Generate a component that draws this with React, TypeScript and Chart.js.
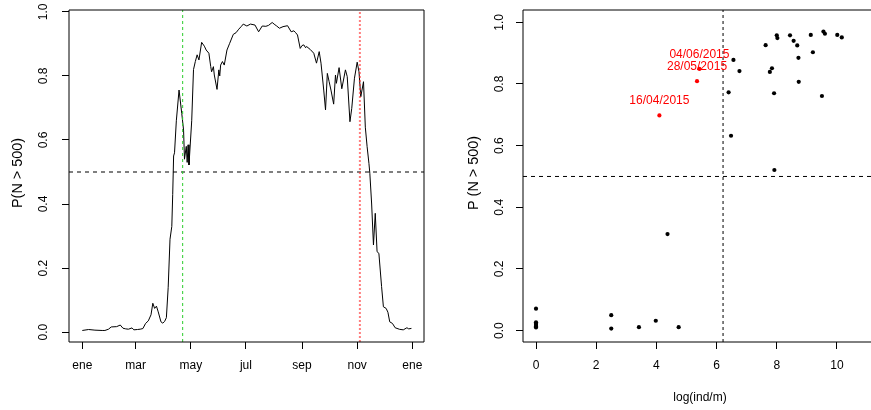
import { useEffect, useRef } from "react";
import { Chart, registerables } from "chart.js";

Chart.register(...registerables);

const FONT = "'Liberation Sans', Arial, Helvetica, sans-serif";
const PAGE_W = 871;
const RIGHT_CANVAS_LEFT = 436;

// ---------- Left panel: daily probability ----------
const dayOfYear = [
  0, 7, 14, 22, 25, 29, 32, 38, 42, 45, 48, 51, 55, 57, 61, 64, 67, 70, 73, 76,
  78, 80, 82, 84, 87, 89, 91, 93, 95, 97, 99, 100, 101, 102, 104, 107, 110, 112, 113, 115,
  116, 117, 118, 121, 123, 125, 127, 129, 132, 135, 137, 140, 142, 143, 145, 146, 149, 151, 152, 153,
  155, 157, 160, 163, 167, 170, 173, 176, 178, 182, 186, 191, 195, 199, 203, 206, 210, 213, 215, 218,
  222, 227, 231, 234, 236, 238, 241, 243, 245, 247, 248, 252, 256, 259, 262, 264, 267, 269, 271, 273,
  275, 278, 280, 281, 284, 287, 291, 293, 296, 298, 301, 304, 306, 308, 311, 313, 315, 317, 318, 320,
  322, 324, 326, 328, 331, 333, 336, 338, 340, 343, 346, 351, 355, 359, 361, 364,
];
const probDaily = [
  0.005, 0.008, 0.006, 0.005, 0.005, 0.009, 0.016, 0.017, 0.022, 0.012, 0.010, 0.009, 0.013, 0.007, 0.008, 0.009, 0.011, 0.027, 0.035, 0.054,
  0.090, 0.074, 0.081, 0.063, 0.032, 0.028, 0.033, 0.045, 0.140, 0.290, 0.330, 0.430, 0.550, 0.560, 0.660, 0.756, 0.683, 0.631, 0.540, 0.580,
  0.530, 0.585, 0.522, 0.660, 0.820, 0.845, 0.866, 0.850, 0.905, 0.893, 0.881, 0.871, 0.830, 0.813, 0.829, 0.803, 0.758, 0.819, 0.800, 0.834,
  0.845, 0.834, 0.881, 0.902, 0.930, 0.935, 0.946, 0.955, 0.962, 0.956, 0.962, 0.959, 0.938, 0.956, 0.955, 0.958, 0.967, 0.960, 0.956, 0.949,
  0.954, 0.957, 0.938, 0.941, 0.935, 0.928, 0.886, 0.895, 0.897, 0.888, 0.892, 0.883, 0.871, 0.840, 0.876, 0.840, 0.756, 0.694, 0.808, 0.782,
  0.756, 0.712, 0.803, 0.777, 0.826, 0.760, 0.819, 0.798, 0.657, 0.699, 0.793, 0.843, 0.813, 0.735, 0.782, 0.640, 0.579, 0.527, 0.496, 0.400,
  0.272, 0.371, 0.251, 0.246, 0.142, 0.079, 0.074, 0.062, 0.032, 0.027, 0.0135, 0.0085, 0.007, 0.0135, 0.010, 0.0115,
];
const monthTickDays = [0, 59, 120, 181, 243, 304, 365];
const monthTickLabels = ["ene", "mar", "may", "jul", "sep", "nov", "ene"];
const probTicks = [0, 0.2, 0.4, 0.6, 0.8, 1.0];
const greenLineDay = 111;
const redLineDay = 307;
const threshold = 0.5;

// ---------- Right panel: probability vs log density ----------
const logDensity = [
  0, 0, 0, 0, 0, 0,
  2.5, 2.5, 3.42, 3.98, 4.74, 4.37,
  6.4, 6.48, 6.56, 6.76, 7.63, 7.77, 7.84, 7.91, 7.92, 8.0, 8.02, 8.44, 8.56, 8.68, 8.72, 8.73,
  9.13, 9.2, 9.5, 9.55, 9.6, 10.01, 10.16,
];
const probObserved = [
  0.071, 0.027, 0.022, 0.018, 0.013, 0.01,
  0.05, 0.0065, 0.011, 0.032, 0.011, 0.313,
  0.773, 0.632, 0.878, 0.842, 0.926, 0.839, 0.851, 0.77, 0.521, 0.958, 0.949, 0.958, 0.94, 0.925, 0.885, 0.807,
  0.959, 0.903, 0.761, 0.97, 0.963, 0.959, 0.951,
];
const highlightLog = [4.1, 5.35, 5.43];
const highlightProb = [0.698, 0.809, 0.849];
const highlightDates = ["16/04/2015", "28/05/2015", "04/06/2015"];
const logTicks = [0, 2, 4, 6, 8, 10];
const logThreshold = Math.log(500);

const LEFT_X = { min: -14.7, max: 377.9 };
const LEFT_Y = { min: -0.031, max: 1.006 };
const RIGHT_X = { min: -0.432, max: 11.33 };
const RIGHT_Y = { min: -0.037, max: 1.04 };

function makeFramePlugin(tickOffset: number, titleOffset: number, title: string, titleCenterShift: number, visibleWidth: number) {
  return {
    id: "rFrame",
    afterDraw(chart: any) {
      const { ctx, chartArea: a, scales } = chart;
      ctx.save();
      ctx.strokeStyle = "#000";
      ctx.lineWidth = 1;
      ctx.setLineDash([]);
      const r = Math.min(a.right, visibleWidth + 2);
      ctx.beginPath();
      ctx.moveTo(r, a.top);
      ctx.lineTo(a.left, a.top);
      ctx.lineTo(a.left, a.bottom);
      ctx.lineTo(r, a.bottom);
      if (a.right <= visibleWidth) ctx.lineTo(a.right, a.top);
      ctx.stroke();
      ctx.font = `12px ${FONT}`;
      ctx.fillStyle = "#000";
      ctx.textAlign = "center";
      ctx.textBaseline = "middle";
      const ys = scales.y;
      probTicks.forEach((v) => {
        const py = ys.getPixelForValue(v);
        ctx.save();
        ctx.translate(a.left - tickOffset, py);
        ctx.rotate(-Math.PI / 2);
        ctx.fillText(v.toFixed(1), 0, 0);
        ctx.restore();
      });
      ctx.font = `14.4px ${FONT}`;
      ctx.textBaseline = "alphabetic";
      ctx.save();
      ctx.translate(a.left - titleOffset, (a.top + a.bottom) / 2 + titleCenterShift);
      ctx.rotate(-Math.PI / 2);
      ctx.fillText(title, 0, 0);
      ctx.restore();
      ctx.restore();
    },
  };
}

const labelPlugin = {
  id: "dateLabels",
  afterDatasetsDraw(chart: any) {
    const { ctx, scales } = chart;
    ctx.save();
    ctx.font = `12px ${FONT}`;
    ctx.fillStyle = "#ff0000";
    ctx.textAlign = "center";
    ctx.textBaseline = "middle";
    highlightDates.forEach((d, i) => {
      const px = scales.x.getPixelForValue(highlightLog[i]);
      const py = scales.y.getPixelForValue(highlightProb[i]);
      ctx.fillText(d, px, py - 14.5);
    });
    ctx.restore();
  },
};

function yScale(range: { min: number; max: number }, width: number) {
  return {
    type: "linear",
    min: range.min,
    max: range.max,
    afterBuildTicks: (s: any) => {
      s.ticks = probTicks.map((v) => ({ value: v }));
    },
    afterFit: (s: any) => {
      s.width = width;
    },
    ticks: { display: false },
    grid: { drawOnChartArea: false, drawTicks: true, tickLength: 7, color: "#000", lineWidth: 1 },
    border: { display: false },
  };
}

export default function App() {
  const leftRef = useRef<HTMLCanvasElement>(null);
  const rightRef = useRef<HTMLCanvasElement>(null);

  useEffect(() => {
    const curve = dayOfYear.map((d, i) => ({ x: d, y: probDaily[i] }));
    const left = new Chart(leftRef.current as HTMLCanvasElement, {
      type: "line",
      data: {
        datasets: [
          { data: curve, borderColor: "#000", borderWidth: 1, pointRadius: 0, tension: 0, order: 3 },
          {
            data: [
              { x: LEFT_X.min, y: threshold },
              { x: LEFT_X.max, y: threshold },
            ],
            borderColor: "#000",
            borderWidth: 1,
            borderDash: [4, 4],
            pointRadius: 0,
            order: 2,
          },
          {
            data: [
              { x: greenLineDay, y: LEFT_Y.min },
              { x: greenLineDay, y: LEFT_Y.max },
            ],
            borderColor: "#2ccc2c",
            borderWidth: 1,
            borderDash: [3, 3],
            pointRadius: 0,
            order: 1,
          },
          {
            data: [
              { x: redLineDay, y: LEFT_Y.min },
              { x: redLineDay, y: LEFT_Y.max },
            ],
            borderColor: "rgba(255,40,40,0.6)",
            borderWidth: 2,
            borderDash: [2, 2],
            pointRadius: 0,
            order: 1,
          },
        ],
      },
      options: {
        animation: false,
        responsive: false,
        devicePixelRatio: 1,
        layout: { padding: { left: 0, top: 10, right: 12, bottom: 0 } },
        plugins: { legend: { display: false }, tooltip: { enabled: false }, title: { display: false } },
        scales: {
          x: {
            type: "linear",
            min: LEFT_X.min,
            max: LEFT_X.max,
            afterBuildTicks: (s: any) => {
              s.ticks = monthTickDays.map((v) => ({ value: v }));
            },
            afterFit: (s: any) => {
              s.height = 68;
            },
            ticks: {
              autoSkip: false,
              maxRotation: 0,
              padding: 9,
              color: "#000",
              font: { family: FONT, size: 12 },
              callback: (_v: any, i: number) => monthTickLabels[i],
            },
            grid: { drawOnChartArea: false, drawTicks: true, tickLength: 7, color: "#000", lineWidth: 1 },
            border: { display: false },
          },
          y: yScale(LEFT_Y, 69) as any,
        },
      } as any,
      plugins: [makeFramePlugin(25, 47.5, "P(N > 500)", -3, RIGHT_CANVAS_LEFT)],
    });

    const pts = logDensity.map((x, i) => ({ x, y: probObserved[i] }));
    const red = highlightLog.map((x, i) => ({ x, y: highlightProb[i] }));
    const right = new Chart(rightRef.current as HTMLCanvasElement, {
      type: "scatter",
      data: {
        datasets: [
          {
            data: [
              { x: RIGHT_X.min, y: threshold },
              { x: RIGHT_X.max, y: threshold },
            ],
            showLine: true,
            borderColor: "#000",
            borderWidth: 1,
            borderDash: [4, 4],
            pointRadius: 0,
            order: 4,
          },
          {
            data: [
              { x: logThreshold, y: RIGHT_Y.min },
              { x: logThreshold, y: RIGHT_Y.max },
            ],
            showLine: true,
            borderColor: "#000",
            borderWidth: 1,
            borderDash: [3, 3],
            pointRadius: 0,
            order: 3,
          },
          { data: pts, backgroundColor: "#000", borderWidth: 0, pointRadius: 2.1, order: 2 },
          { data: red, backgroundColor: "#ff0000", borderWidth: 0, pointRadius: 2.1, order: 1 },
        ],
      },
      options: {
        animation: false,
        responsive: false,
        devicePixelRatio: 1,
        layout: { padding: { left: 0, top: 10, right: 29, bottom: 0 } },
        plugins: { legend: { display: false }, tooltip: { enabled: false }, title: { display: false } },
        scales: {
          x: {
            type: "linear",
            min: RIGHT_X.min,
            max: RIGHT_X.max,
            afterBuildTicks: (s: any) => {
              s.ticks = logTicks.map((v) => ({ value: v }));
            },
            afterFit: (s: any) => {
              s.height = 68;
            },
            ticks: {
              autoSkip: false,
              maxRotation: 0,
              padding: 9,
              color: "#000",
              font: { family: FONT, size: 12 },
              callback: (v: any) => String(v),
            },
            grid: { drawOnChartArea: false, drawTicks: true, tickLength: 7, color: "#000", lineWidth: 1 },
            border: { display: false },
            title: {
              display: true,
              text: "log(ind/m)",
              color: "#000",
              font: { family: FONT, size: 12 },
              padding: { top: 0, bottom: 5 },
            },
          },
          y: yScale(RIGHT_Y, 87) as any,
        },
      } as any,
      plugins: [makeFramePlugin(23, 45.5, "P (N > 500)", -3, PAGE_W - RIGHT_CANVAS_LEFT), labelPlugin],
    });

    return () => {
      left.destroy();
      right.destroy();
    };
  }, []);

  return (
    <div
      style={{
        position: "fixed",
        left: 0,
        top: 0,
        width: PAGE_W,
        height: 410,
        overflow: "hidden",
        background: "#fff",
      }}
    >
      <canvas ref={leftRef} width={RIGHT_CANVAS_LEFT} height={410} style={{ position: "absolute", left: 0, top: 0 }} />
      <canvas ref={rightRef} width={470} height={410} style={{ position: "absolute", left: RIGHT_CANVAS_LEFT, top: 0 }} />
    </div>
  );
}
